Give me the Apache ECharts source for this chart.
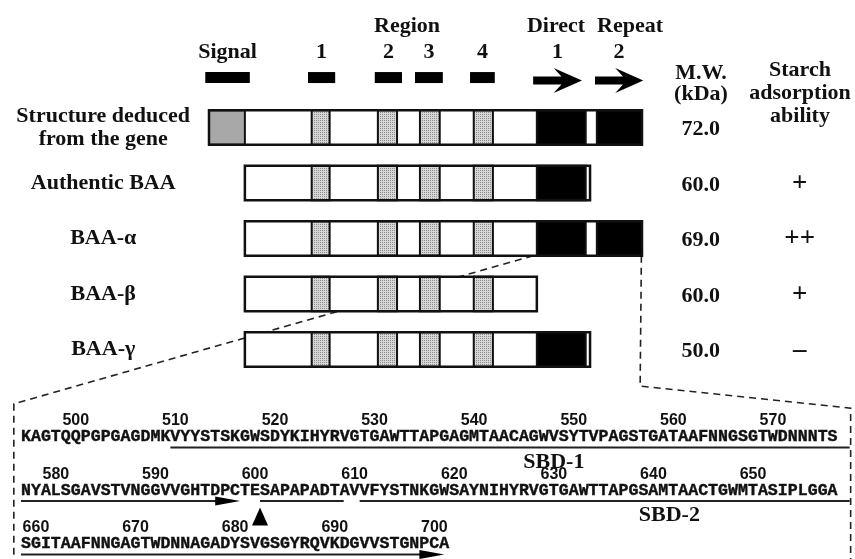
<!DOCTYPE html>
<html><head><meta charset="utf-8">
<script src="https://cdn.jsdelivr.net/npm/echarts@6/dist/echarts.min.js"></script>
<style>html,body{margin:0;padding:0;background:#fff}#c{width:855px;height:559px}</style>
</head><body><div id="c"></div>
<script>
// ---------- data ----------
const rowNames = ['Structure deduced\nfrom the gene', 'Authentic BAA', 'BAA-α', 'BAA-β', 'BAA-γ'];
const rowStart = [1, 59, 59, 59, 59];          // residue
const rowEnd = [701, 617, 701, 531, 617];      // residue
const molWeight = ['72.0', '60.0', '69.0', '60.0', '50.0'];
const starchAdsorption = ['', '+', '++', '+', '–'];

const domainNames = ['signal', 'region', 'region', 'region', 'region', 'repeat', 'repeat'];
const domainStart = [1, 167, 274, 342, 429, 531, 628];
const domainEnd = [59, 196, 305, 374, 460, 610, 701];

const legendLabels = ['Signal', '1', '2', '3', '4', '1', '2'];
const legendShape = ['rect', 'rect', 'rect', 'rect', 'rect', 'arrow', 'arrow'];
const legendStart = [-5, 161, 269, 334, 423, 525, 625];
const legendEnd = [67, 205, 313, 379, 463, 604, 703];

const seqLines = [
  'KAGTQQPGPGAGDMKVYYSTSKGWSDYKIHYRVGTGAWTTAPGAGMTAACAGWVSYTVPAGSTGATAAFNNGSGTWDNNNTS',
  'NYALSGAVSTVNGGVVGHTDPCTESAPAPADTAVVFYSTNKGWSAYNIHYRVGTGAWTTAPGSAMTAACTGWMTASIPLGGA',
  'SGITAAFNNGAGTWDNNAGADYSVGSGYRQVKDGVVSTGNPCA'
];
const seqFirstResidue = [495, 577, 659];

const underlineRow = [0, 1, 1, 1, 2];
const underlineFrom = [15, 0, 24, 34, 0];        // character index
const underlineTo = [83.2, 22, 32.4, 83.2, 42.5];
const underlineKind = ['line', 'arrow', 'line', 'line', 'arrow'];

const cleavageRow = 1, cleavageIndex = 24;
const sbdLabels = ['SBD-1', 'SBD-2'];
const sbdRow = [0, 1];
const sbdCenter = [53.5, 65.1];

// ---------- layout ----------
const LABEL_X = -170, MW_X = 796, STARCH_X = 956;   // residue-axis units
const SERIF = 'bold 22px "Liberation Serif"';
const INK = '#111';

const pc = document.createElement('canvas');
pc.width = 2; pc.height = 2;
const pctx = pc.getContext('2d');
pctx.fillStyle = '#d6d6d6'; pctx.fillRect(0, 0, 2, 2);
pctx.fillStyle = '#8e8e8e'; pctx.fillRect(0, 0, 1, 1);
const fills = { signal: '#a8a8a8', region: { image: pc, repeat: 'repeat' }, repeat: '#000' };

function renderBar(params, api) {
  const r = api.value(0);
  const h = api.size([0, 1])[1] * 0.62;
  const s = rowStart[r], e = rowEnd[r];
  const p0 = api.coord([s, r]), p1 = api.coord([e, r]);
  const y = p0[1] - h / 2;
  const ch = [{ type: 'rect', shape: { x: p0[0], y, width: p1[0] - p0[0], height: h }, style: { fill: '#fff' } }];
  domainNames.forEach((d, k) => {
    const a = Math.max(s, domainStart[k]), b = Math.min(e, domainEnd[k]);
    if (b - a < 1) return;
    const q0 = api.coord([a, r]), q1 = api.coord([b, r]);
    ch.push({ type: 'rect', shape: { x: q0[0], y, width: q1[0] - q0[0], height: h }, style: { fill: fills[d], stroke: INK, lineWidth: 2 } });
  });
  ch.push({ type: 'rect', shape: { x: p0[0], y, width: p1[0] - p0[0], height: h }, style: { fill: 'none', stroke: INK, lineWidth: 2.5 } });
  return { type: 'group', children: ch };
}

function renderRowText(params, api) {
  const r = api.value(0);
  const a = api.coord([LABEL_X, r]), m = api.coord([MW_X, r]), s = api.coord([STARCH_X, r]);
  const st = (x, y, text, font) => ({ type: 'text', style: { x, y, text, font: font || SERIF, fill: INK, align: 'center', verticalAlign: 'middle', lineHeight: 23 } });
  return { type: 'group', children: [
    st(a[0], a[1], rowNames[r]),
    st(m[0], m[1] + 2, molWeight[r]),
    st(s[0], s[1] + 1, starchAdsorption[r], 'bold 27px "Liberation Serif"')
  ] };
}

function renderLegend(params, api) {
  const i = api.value(0);
  const p0 = api.coord([legendStart[i], -0.9]), p1 = api.coord([legendEnd[i], -0.9]);
  const lab = api.coord([(legendStart[i] + legendEnd[i]) / 2, -1.35]);
  const ch = [{ type: 'text', style: { x: lab[0], y: lab[1], text: legendLabels[i], font: SERIF, fill: INK, align: 'center', verticalAlign: 'middle' } }];
  if (legendShape[i] === 'rect') {
    ch.push({ type: 'rect', shape: { x: p0[0], y: p0[1] - 5.5, width: p1[0] - p0[0], height: 11 }, style: { fill: '#000' } });
  } else {
    const x0 = p0[0], x1 = p1[0], L = x1 - x0, cy = p0[1] + 3;
    ch.push({ type: 'polygon', shape: { points: [
      [x0, cy - 4], [x0 + 0.58 * L, cy - 4], [x0 + 0.42 * L, cy - 12.5], [x1, cy],
      [x0 + 0.42 * L, cy + 12.5], [x0 + 0.58 * L, cy + 4], [x0, cy + 4]] }, style: { fill: '#000' } });
  }
  return { type: 'group', children: ch };
}

function renderSeq(params, api) {
  const r = api.value(0);
  const p = api.coord([0, r]);
  const ch = [{ type: 'text', style: { x: p[0], y: p[1], text: seqLines[r], font: 'bold 16.6px "Liberation Mono"', fill: INK, stroke: INK, lineWidth: 0.4, align: 'left', verticalAlign: 'middle' } }];
  const first = seqFirstResidue[r], len = seqLines[r].length;
  for (let n = Math.ceil(first / 10) * 10; n < first + len; n += 10) {
    const q = api.coord([n - first + 0.5, r]);
    ch.push({ type: 'text', style: { x: q[0], y: q[1] - 16, text: String(n), font: 'bold 16px "Liberation Sans"', fill: INK, align: 'center', verticalAlign: 'middle' } });
  }
  return { type: 'group', children: ch };
}

function renderUnderline(params, api) {
  const i = api.value(0);
  const r = underlineRow[i];
  const a = api.coord([underlineFrom[i], r]), b = api.coord([underlineTo[i], r]);
  const y = a[1] + 10.5;
  const ch = [];
  if (underlineKind[i] === 'arrow') {
    const head = api.size([2.5, 0])[0];
    ch.push({ type: 'line', shape: { x1: a[0], y1: y, x2: b[0] - head + 2, y2: y }, style: { stroke: '#222', lineWidth: 2.2 } });
    ch.push({ type: 'polygon', shape: { points: [[b[0] - head, y - 4.5], [b[0], y], [b[0] - head, y + 4.5]] }, style: { fill: '#000' } });
  } else {
    ch.push({ type: 'line', shape: { x1: a[0], y1: y, x2: b[0], y2: y }, style: { stroke: '#222', lineWidth: 2.2 } });
  }
  return { type: 'group', children: ch };
}

function renderSeqMarks(params, api) {
  const c = api.coord([cleavageIndex, cleavageRow]);
  const ch = [{ type: 'polygon', shape: { points: [[c[0], c[1] + 17], [c[0] + 8, c[1] + 35], [c[0] - 8, c[1] + 35]] }, style: { fill: '#000' } }];
  sbdLabels.forEach((t, k) => {
    const q = api.coord([sbdCenter[k], sbdRow[k]]);
    ch.push({ type: 'text', style: { x: q[0], y: q[1] + 25, text: t, font: SERIF, fill: INK, align: 'center', verticalAlign: 'middle' } });
  });
  return { type: 'group', children: ch };
}

const chart = echarts.init(document.getElementById('c'), null, { renderer: 'canvas' });
const hdr = (x, y, text) => ({ type: 'text', x, y, style: { text, font: SERIF, fill: INK, align: 'center', verticalAlign: 'middle' } });
const headers = () => [
  hdr(407, 26, 'Region'), hdr(556, 26, 'Direct'), hdr(630, 26, 'Repeat'),
  hdr(701, 73, 'M.W.'), hdr(701, 94, '(kDa)'),
  hdr(800, 70, 'Starch'), hdr(800, 93, 'adsorption'), hdr(800, 116, 'ability')
];

chart.setOption({
  animation: false,
  backgroundColor: '#fff',
  grid: [
    { left: 209, top: 16.5, width: 433, height: 388.5 },
    { left: 21, top: 437, width: 816.7, height: 107 }
  ],
  xAxis: [
    { type: 'value', min: 1, max: 701, show: false, gridIndex: 0 },
    { type: 'value', min: 0, max: 82, show: false, gridIndex: 1 }
  ],
  yAxis: [
    { type: 'value', min: -2, max: 5, inverse: true, show: false, gridIndex: 0 },
    { type: 'value', min: 0, max: 2, inverse: true, show: false, gridIndex: 1 }
  ],
  series: [
    { type: 'custom', xAxisIndex: 0, yAxisIndex: 0, data: rowNames.map((n, i) => [i]), renderItem: renderBar, silent: true },
    { type: 'custom', xAxisIndex: 0, yAxisIndex: 0, data: rowNames.map((n, i) => [i]), renderItem: renderRowText, silent: true },
    { type: 'custom', xAxisIndex: 0, yAxisIndex: 0, data: legendLabels.map((n, i) => [i]), renderItem: renderLegend, silent: true },
    { type: 'custom', xAxisIndex: 1, yAxisIndex: 1, data: seqLines.map((n, i) => [i]), renderItem: renderSeq, silent: true },
    { type: 'custom', xAxisIndex: 1, yAxisIndex: 1, data: underlineRow.map((n, i) => [i]), renderItem: renderUnderline, silent: true },
    { type: 'custom', xAxisIndex: 1, yAxisIndex: 1, data: [[0]], renderItem: renderSeqMarks, silent: true }
  ],
  graphic: headers()
});

// zoom connectors from the BAA-α bar to the sequence box
const A = (v) => chart.convertToPixel({ gridIndex: 0 }, v);
const B = (v) => chart.convertToPixel({ gridIndex: 1 }, v);
const dash = { stroke: '#222', lineWidth: 1.6, lineDash: [7, 5], fill: null };
chart.setOption({
  graphic: headers().concat([
    { type: 'polyline', shape: { points: [A([525, 2.31]), B([-0.72, -0.62]), B([-0.72, 2.3])] }, style: dash },
    { type: 'polyline', shape: { points: [A([700, 2.31]), A([698, 4.66]), B([83.3, -0.54]), B([83.3, 2.3])] }, style: dash }
  ])
}, { replaceMerge: ['graphic'] });
</script>
</body></html>
